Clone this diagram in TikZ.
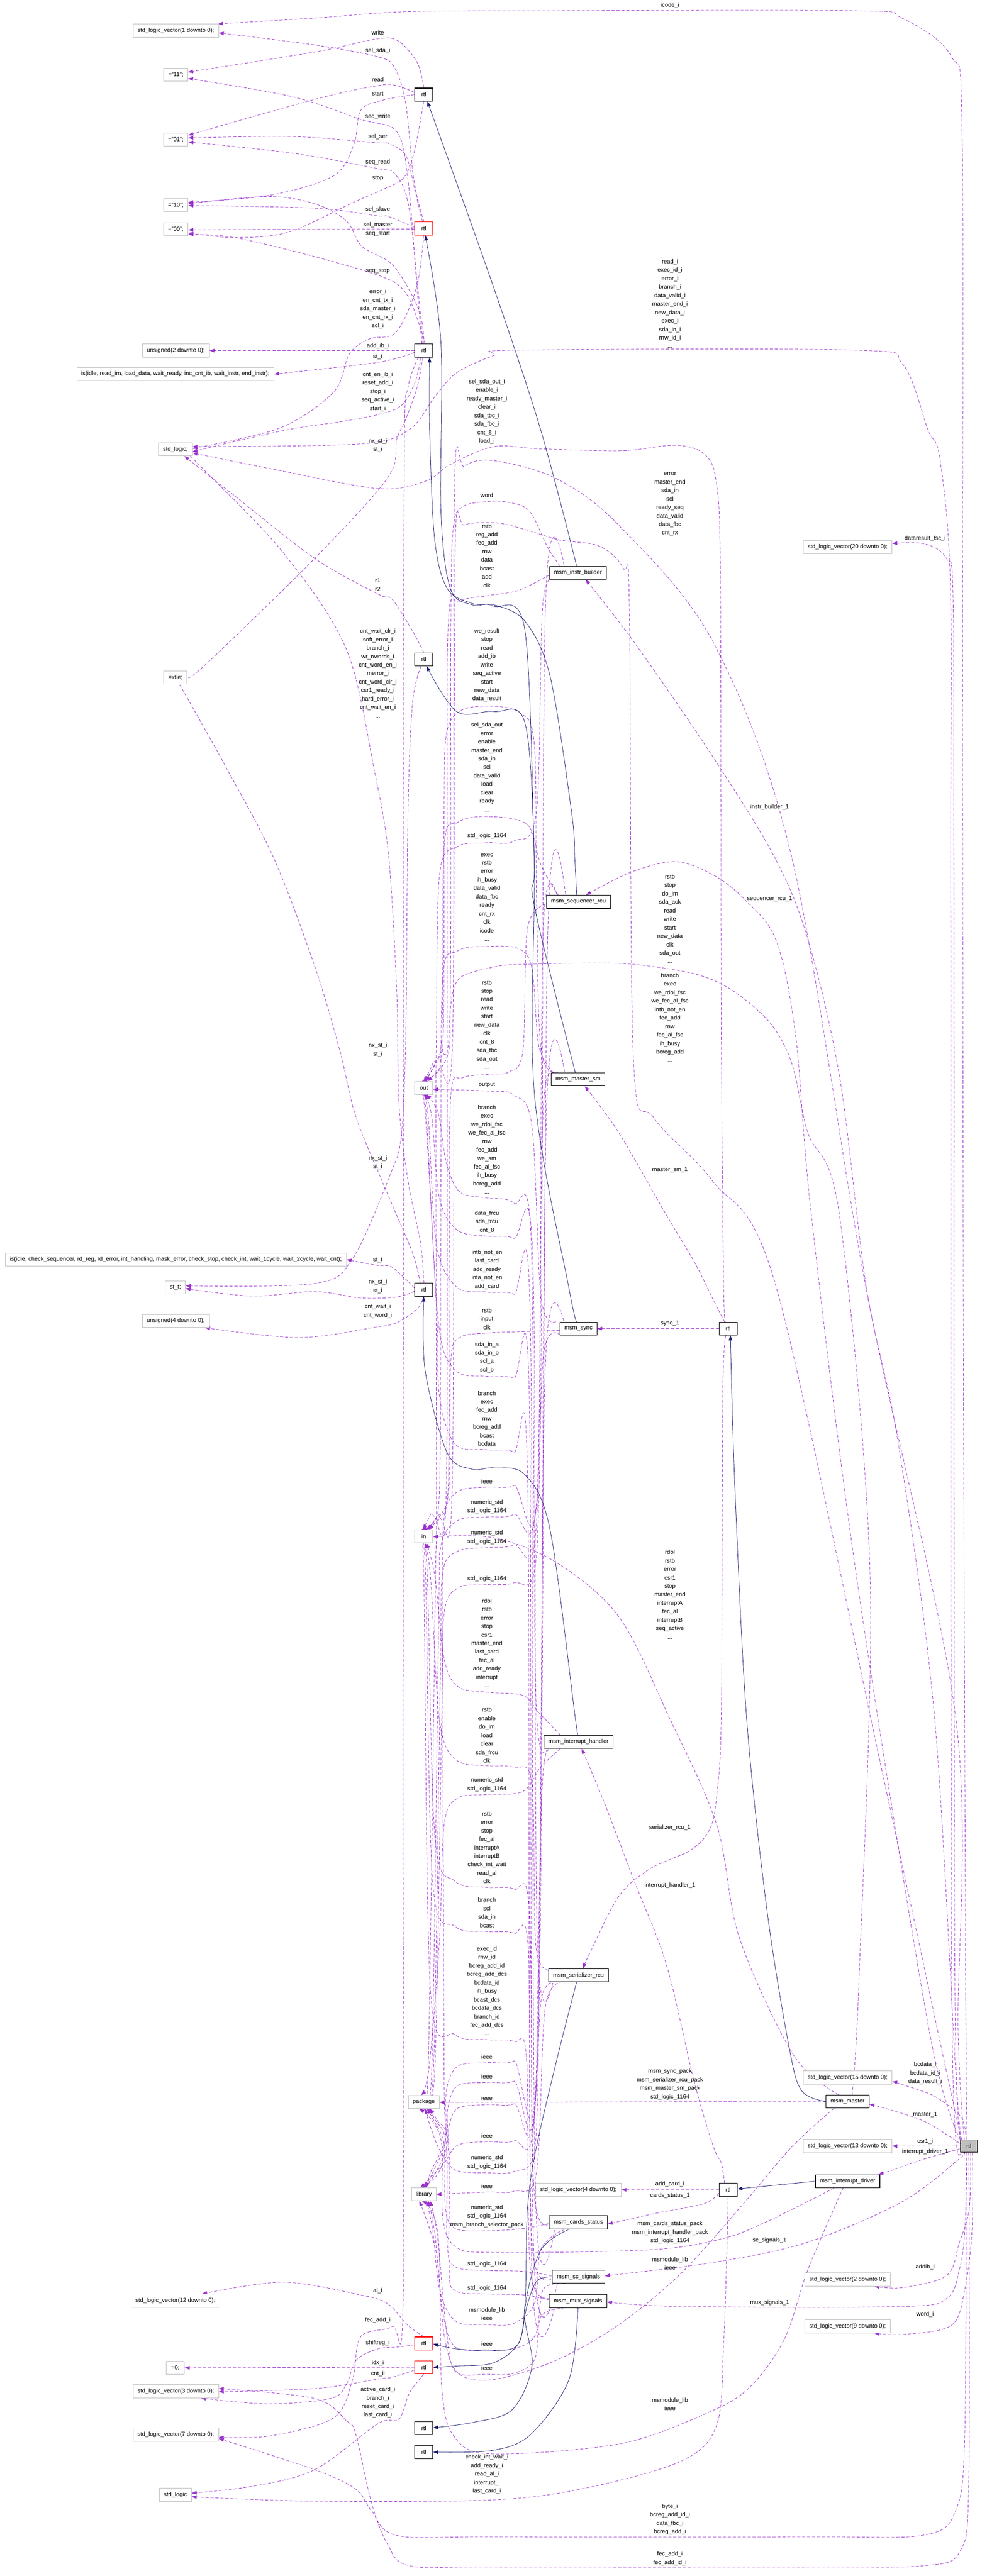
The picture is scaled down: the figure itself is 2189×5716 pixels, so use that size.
\documentclass[tikz,border=0pt]{standalone}
\usepackage{fontspec}
\setmainfont{Liberation Sans}
\usetikzlibrary{arrows.meta}
\definecolor{ec}{HTML}{9A32CD}
\definecolor{ic}{HTML}{191970}
\definecolor{gb}{HTML}{BFBFBF}
\pgfdeclarelayer{bg}
\pgfsetlayers{bg,main}
\newcommand{\myedge}[2][dep]{\draw[#1] plot[smooth,tension=.55] coordinates {#2};}
\begin{document}
\begin{tikzpicture}[x=1pt,y=-1pt,
 tn/.style={draw=gb,line width=1pt,fill=white,font=\fontsize{13}{15}\selectfont,inner xsep=10pt,inner ysep=0pt,minimum height=29pt,minimum width=40pt},
 en/.style={tn,draw=black,line width=1.3pt},
 rn/.style={tn,draw=red,line width=1.3pt},
 lb/.style={font=\fontsize{13}{18.8}\selectfont,align=center,inner sep=0pt},
 dep/.style={draw=ec,line width=0.9pt,dash pattern=on 7pt off 4pt,-{Triangle[length=11pt,width=8pt]}},
 inh/.style={draw=ic,line width=0.9pt,-{Triangle[length=11pt,width=8pt]}}]
\useasboundingbox (0,0) rectangle (2189,5716);
% ---------- nodes: left column (types)
\node[tn] (slv1) at (390,68) {std\_logic\_vector(1 downto 0);};
\node[tn] (v11) at (390,166) {="11";};
\node[tn] (v01) at (390,310) {="01";};
\node[tn] (v10) at (390,455) {="10";};
\node[tn] (v00) at (390,509) {="00";};
\node[tn] (u2) at (390,778) {unsigned(2 downto 0);};
\node[tn] (isib) at (389,830) {is(idle, read\_im, load\_data, wait\_ready, inc\_cnt\_ib, wait\_instr, end\_instr);};
\node[tn] (sl) at (389,997) {std\_logic;};
\node[tn] (idle) at (389,1503) {=idle;};
\node[tn] (isih) at (390,2795) {is(idle, check\_sequencer, rd\_reg, rd\_error, int\_handling, mask\_error, check\_stop, check\_int, wait\_1cycle, wait\_2cycle, wait\_cnt);};
\node[tn] (stt) at (389,2857) {st\_t;};
\node[tn] (u4) at (390,2931) {unsigned(4 downto 0);};
\node[tn] (v12) at (389,5105) {std\_logic\_vector(12 downto 0);};
\node[tn] (zero) at (389,5254) {=0;};
\node[tn] (v3) at (390,5306) {std\_logic\_vector(3 downto 0);};
\node[tn] (v7) at (390,5402) {std\_logic\_vector(7 downto 0);};
\node[tn] (sl2) at (389,5536) {std\_logic};
% ---------- rank 4
\node[en] (rA) at (940,210) {rtl};
\node[rn] (rB) at (940,507) {rtl};
\node[en] (rC) at (940,778) {rtl};
\node[en] (rD) at (940,1463) {rtl};
\node[tn] (outn) at (940,2414) {out};
\node[en] (rE) at (940,2862) {rtl};
\node[tn] (inn) at (940,3409) {in};
\node[tn] (pkg) at (940,4664) {package};
\node[tn] (lib) at (940,4869) {library};
\node[rn] (rH) at (940,5200) {rtl};
\node[rn] (rI) at (940,5253) {rtl};
\node[en] (rJ) at (940,5388) {rtl};
\node[en] (rK) at (940,5441) {rtl};
% ---------- rank 3
\node[en] (ib) at (1282,1271) {msm\_instr\_builder};
\node[en] (seq) at (1283,2001) {msm\_sequencer\_rcu};
\node[en] (msm) at (1282,2395) {msm\_master\_sm};
\node[en] (sync) at (1283,2948) {msm\_sync};
\node[en] (ih) at (1283,3865) {msm\_interrupt\_handler};
\node[en] (ser) at (1283,4383) {msm\_serializer\_rcu};
\node[tn] (v4) at (1283,4859) {std\_logic\_vector(4 downto 0);};
\node[en] (card) at (1283,4931) {msm\_cards\_status};
\node[en] (sc) at (1283,5052) {msm\_sc\_signals};
\node[en] (mux) at (1282,5106) {msm\_mux\_signals};
% ---------- rank 2
\node[en] (rF) at (1615,2948) {rtl};
\node[en] (rG) at (1615,4859) {rtl};
% ---------- rank 1
\node[tn] (v20) at (1880,1214) {std\_logic\_vector(20 downto 0);};
\node[tn] (v15) at (1880,4610) {std\_logic\_vector(15 downto 0);};
\node[en] (mst) at (1880,4663) {msm\_master};
\node[tn] (v13) at (1880,4762) {std\_logic\_vector(13 downto 0);};
\node[en] (idr) at (1880,4840) {msm\_interrupt\_driver};
\node[tn] (v2) at (1880,5058) {std\_logic\_vector(2 downto 0);};
\node[tn] (v9) at (1880,5162) {std\_logic\_vector(9 downto 0);};
% ---------- rank 0
\node[tn,draw=black,line width=1.3pt,fill=gb,minimum width=38pt,minimum height=28pt] (top) at (2149,4762) {rtl};
% ---------- labels x=838
\node[lb] (t1) at (838,73) {write};
\node[lb] (t2) at (838,113) {sel\_sda\_i};
\node[lb] (t3) at (838,177) {read};
\node[lb] (t4) at (838,208) {start};
\node[lb] (t5) at (838,259) {seq\_write};
\node[lb] (t6) at (838,303) {sel\_ser};
\node[lb] (t7) at (838,360) {seq\_read};
\node[lb] (t8) at (838,396) {stop};
\node[lb] (t9) at (838,465) {sel\_slave};
\node[lb] (t10) at (838,499) {sel\_master};
\node[lb] (t11) at (838,519) {seq\_start};
\node[lb] (t12) at (838,601) {seq\_stop};
\node[lb] (t13) at (838,685.5) {error\_i\\en\_cnt\_tx\_i\\sda\_master\_i\\en\_cnt\_rx\_i\\scl\_i};
\node[lb] (t14) at (838,768) {add\_ib\_i};
\node[lb] (t15) at (838,792) {st\_t};
\node[lb] (t16) at (838,869) {cnt\_en\_ib\_i\\reset\_add\_i\\stop\_i\\seq\_active\_i\\start\_i};
\node[lb] (t17) at (838,988.5) {nx\_st\_i\\st\_i};
\node[lb] (t18) at (838,1297.5) {r1\\r2};
\node[lb] (t19) at (838,1494) {cnt\_wait\_clr\_i\\soft\_error\_i\\branch\_i\\wr\_nwords\_i\\cnt\_word\_en\_i\\merror\_i\\cnt\_word\_clr\_i\\csr1\_ready\_i\\hard\_error\_i\\cnt\_wait\_en\_i\\...};
\node[lb] (t20) at (838,2330) {nx\_st\_i\\st\_i};
\node[lb] (t21) at (838,2579.5) {nx\_st\_i\\st\_i};
\node[lb] (t22) at (838,2796) {st\_t};
\node[lb] (t23) at (838,2854.5) {nx\_st\_i\\st\_i};
\node[lb] (t24) at (838,2909.5) {cnt\_wait\_i\\cnt\_word\_i};
\node[lb] (t25) at (838,5083) {al\_i};
\node[lb] (t26) at (838,5148) {fec\_add\_i};
\node[lb] (t27) at (838,5199) {shiftreg\_i};
\node[lb] (t28) at (838,5243) {idx\_i};
\node[lb] (t29) at (838,5267) {cnt\_ii};
\node[lb] (t30) at (838,5331) {active\_card\_i\\branch\_i\\reset\_card\_i\\last\_card\_i};
% ---------- labels x=1080
\node[lb] (u1) at (1080,913.5) {sel\_sda\_out\_i\\enable\_i\\ready\_master\_i\\clear\_i\\sda\_tbc\_i\\sda\_fbc\_i\\cnt\_8\_i\\load\_i};
\node[lb] (u2l) at (1080,1099) {word};
\node[lb] (u3) at (1080,1233) {rstb\\reg\_add\\fec\_add\\rnw\\data\\bcast\\add\\clk};
\node[lb] (u4l) at (1080,1476) {we\_result\\stop\\read\\add\_ib\\write\\seq\_active\\start\\new\_data\\data\_result};
\node[lb] (u5) at (1080,1702) {sel\_sda\_out\\error\\enable\\master\_end\\sda\_in\\scl\\data\_valid\\load\\clear\\ready\\...};
\node[lb] (u6) at (1080,1855) {std\_logic\_1164};
\node[lb] (u7) at (1080,1990.5) {exec\\rstb\\error\\ih\_busy\\data\_valid\\data\_fbc\\ready\\cnt\_rx\\clk\\icode\\...};
\node[lb] (u8) at (1080,2274) {rstb\\stop\\read\\write\\start\\new\_data\\clk\\cnt\_8\\sda\_tbc\\sda\_out\\...};
\node[lb] (u9) at (1080,2408) {output};
\node[lb] (u10) at (1080,2551) {branch\\exec\\we\_rdol\_fsc\\we\_fec\_al\_fsc\\rnw\\fec\_add\\we\_sm\\fec\_al\_fsc\\ih\_busy\\bcreg\_add\\...};
\node[lb] (u11) at (1080,2711.5) {data\_frcu\\sda\_trcu\\cnt\_8};
\node[lb] (u12) at (1080,2817) {intb\_not\_en\\last\_card\\add\_ready\\inta\_not\_en\\add\_card};
\node[lb] (u13) at (1080,2926) {rstb\\input\\clk};
\node[lb] (u14) at (1080,3012) {sda\_in\_a\\sda\_in\_b\\scl\_a\\scl\_b};
\node[lb] (u15) at (1080,3147.5) {branch\\exec\\fec\_add\\rnw\\bcreg\_add\\bcast\\bcdata};
\node[lb] (u16) at (1080,3287) {ieee};
\node[lb] (u17) at (1080,3343.5) {numeric\_std\\std\_logic\_1164};
\node[lb] (u18) at (1080,3411.5) {numeric\_std\\std\_logic\_1164};
\node[lb] (u19) at (1080,3503) {std\_logic\_1164};
\node[lb] (u20) at (1080,3646) {rdol\\rstb\\error\\stop\\csr1\\master\_end\\last\_card\\fec\_al\\add\_ready\\interrupt\\...};
\node[lb] (u21) at (1080,3850.5) {rstb\\enable\\do\_im\\load\\clear\\sda\_frcu\\clk};
\node[lb] (u22) at (1080,3960) {numeric\_std\\std\_logic\_1164};
\node[lb] (u23) at (1080,4099.5) {rstb\\error\\stop\\fec\_al\\interruptA\\interruptB\\check\_int\_wait\\read\_al\\clk};
\node[lb] (u24) at (1080,4244) {branch\\scl\\sda\_in\\bcast};
\node[lb] (u25) at (1080,4418) {exec\_id\\rnw\_id\\bcreg\_add\_id\\bcreg\_add\_dcs\\bcdata\_id\\ih\_busy\\bcast\_dcs\\bcdata\_dcs\\branch\_id\\fec\_add\_dcs\\...};
\node[lb] (u26) at (1080,4564) {ieee};
\node[lb] (u27) at (1080,4608) {ieee};
\node[lb] (u28) at (1080,4656) {ieee};
\node[lb] (u29) at (1080,4739) {ieee};
\node[lb] (u30) at (1080,4798) {numeric\_std\\std\_logic\_1164};
\node[lb] (u31) at (1080,4851) {ieee};
\node[lb] (u32) at (1080,4918) {numeric\_std\\std\_logic\_1164\\msm\_branch\_selector\_pack};
\node[lb] (u33) at (1080,5024) {std\_logic\_1164};
\node[lb] (u34) at (1080,5077) {std\_logic\_1164};
\node[lb] (u35) at (1080,5134.5) {msmodule\_lib\\ieee};
\node[lb] (u36) at (1080,5201) {ieee};
\node[lb] (u37) at (1080,5255) {ieee};
\node[lb] (u38) at (1080,5490.5) {check\_int\_wait\_i\\add\_ready\_i\\read\_al\_i\\interrupt\_i\\last\_card\_i};
% ---------- labels x=1486
\node[lb] (w1) at (1486,12) {icode\_i};
\node[lb] (w2) at (1486,674) {read\_i\\exec\_id\_i\\error\_i\\branch\_i\\data\_valid\_i\\master\_end\_i\\new\_data\_i\\exec\_i\\sda\_in\_i\\rnw\_id\_i\\...};
\node[lb] (w3) at (1486,1118.5) {error\\master\_end\\sda\_in\\scl\\ready\_seq\\data\_valid\\data\_fbc\\cnt\_rx};
\node[lb] (w4) at (1486,2039) {rstb\\stop\\do\_im\\sda\_ack\\read\\write\\start\\new\_data\\clk\\sda\_out\\...};
\node[lb] (w5) at (1486,2258.5) {branch\\exec\\we\_rdol\_fsc\\we\_fec\_al\_fsc\\intb\_not\_en\\fec\_add\\rnw\\fec\_al\_fsc\\ih\_busy\\bcreg\_add\\...};
\node[lb] (w6) at (1486,2596) {master\_sm\_1};
\node[lb] (w7) at (1486,2937) {sync\_1};
\node[lb] (w8) at (1486,3538) {rdol\\rstb\\error\\csr1\\stop\\master\_end\\interruptA\\fec\_al\\interruptB\\seq\_active\\...};
\node[lb] (w9) at (1486,4055) {serializer\_rcu\_1};
\node[lb] (w10) at (1486,4183) {interrupt\_handler\_1};
\node[lb] (w11) at (1486,4625) {msm\_sync\_pack\\msm\_serializer\_rcu\_pack\\msm\_master\_sm\_pack\\std\_logic\_1164};
\node[lb] (w12) at (1486,4847) {add\_card\_i};
\node[lb] (w13) at (1486,4872) {cards\_status\_1};
\node[lb] (w14) at (1486,4953.5) {msm\_cards\_status\_pack\\msm\_interrupt\_handler\_pack\\std\_logic\_1164};
\node[lb] (w15) at (1486,5022.5) {msmodule\_lib\\ieee};
\node[lb] (w16) at (1486,5334.5) {msmodule\_lib\\ieee};
\node[lb] (w17) at (1486,5590) {byte\_i\\bcreg\_add\_id\_i\\data\_fbc\_i\\bcreg\_add\_i};
\node[lb] (w18) at (1486,5677) {fec\_add\_i\\fec\_add\_id\_i};
% ---------- labels x=1707 / 2052
\node[lb] (x1) at (1707,1791) {instr\_builder\_1};
\node[lb] (x2) at (1707,1995) {sequencer\_rcu\_1};
\node[lb] (x3) at (1707,4971) {sc\_signals\_1};
\node[lb] (x4) at (1707,5109) {mux\_signals\_1};
\node[lb] (y1) at (2052,1195) {dataresult\_fsc\_i};
\node[lb] (y2) at (2052,4600.5) {bcdata\_i\\bcdata\_id\_i\\data\_result\_i};
\node[lb] (y3) at (2052,4692) {master\_1};
\node[lb] (y4) at (2052,4752) {csr1\_i};
\node[lb] (y5) at (2052,4775) {interrupt\_driver\_1};
\node[lb] (y6) at (2052,5031) {addib\_i};
\node[lb] (y7) at (2052,5136) {word\_i};
% =================== connectors (background layer)
\begin{pgfonlayer}{bg}
\fill[white] (0,0) rectangle (2189,5716);
% ---- rank 4 -> rank 5
\myedge{(rA.north) (926,140) (885,92) (838,86) (700,115) ([yshift=6pt]v11.east)}
\myedge{(rB.north) (918,400) (900,230) (875,150) (838,126) (700,100) ([yshift=-5pt]slv1.east)}
\myedge{([yshift=5pt]rA.west) (880,190) (838,190) (700,220) ([yshift=10pt]v01.east)}
\myedge{(rA.west) (850,222) (800,245) (785,320) (740,390) (600,433) ([yshift=6pt]v10.east)}
\myedge{([xshift=-4pt]rC.north) (925,640) (905,400) (880,292) (800,265) (650,215) ([yshift=-8pt]v11.east)}
\myedge{([xshift=-3pt]rB.north) (922,430) (900,345) (860,318) (838,317) (650,303) ([yshift=4pt]v01.east)}
\myedge{([xshift=-2pt]rC.north) (928,650) (905,450) (875,385) (838,374) (650,340) ([yshift=-5pt]v01.east)}
\myedge{(rA.south) (918,340) (895,395) (850,420) (782,450) (640,515) (520,527) ([yshift=-8pt]v00.east)}
\myedge{([yshift=3pt]rB.west) (860,480) (838,479) (700,462) ([yshift=-1pt]v10.east)}
\draw[dep] ([yshift=-1pt]rB.west) -- ([yshift=-1pt]v00.east);
\myedge{(rC.north) (930,690) (873,590) (803,547) (768,490) (698,452) (594,436) ([yshift=3pt]v10.east)}
\myedge{([xshift=3pt]rC.north) (930,720) (900,650) (850,615) (700,570) (520,527) ([yshift=-11pt]v00.east)}
\myedge{(rB.south) (928,620) (905,690) (873,742) (820,752) (775,785) (740,870) (620,950) ([yshift=2pt]sl.east)}
\draw[dep] (rC.west) -- (u2.east);
\myedge{([yshift=-4pt]rC.west) (838,804) (isib.east)}
\myedge{([xshift=-6pt]rC.south) (920,850) (890,900) (838,920) (760,935) (630,955) ([yshift=-5pt]sl.east)}
\myedge{([xshift=-2pt]rC.south) (925,860) (900,930) (880,975) (860,1060) (698,1239) (450,1480) ([yshift=5pt]idle.east)}
\myedge{(rD.north) (915,1400) (870,1330) (838,1318) (698,1239) (520,1100) ([xshift=20pt]sl.south)}
\myedge{(rE.north) (933,2760) (905,2620) (885,2450) (880,2200) (862,1900) (831,1713) (768,1440) (628,1226) (450,1040) ([xshift=32pt]sl.south)}
\myedge{([xshift=-8pt]rE.north) (915,2780) (860,2650) (790,2480) (754,2332) (700,2150) (608,1906) (500,1700) (402,1525) ([xshift=10pt]idle.south)}
\myedge{([xshift=-6pt]rD.south) (915,1560) (905,1800) (900,2300) (890,2520) (866,2605) (782,2793) (698,2848) ([yshift=4pt]stt.east)}
\myedge{([yshift=4pt]rE.west) (870,2812) (838,2808) (isih.east)}
\myedge{([yshift=-3pt]rE.west) (880,2878) (800,2880) (698,2866) (559,2876) ([yshift=-2pt]stt.east)}
\myedge{(rE.south) (925,2905) (880,2935) (838,2944) (663,2968) ([xshift=-10pt]u4.south east)}
\myedge{(rH.north) (905,5160) (860,5112) (803,5093) (628,5064) ([xshift=-40pt]v12.north east)}
\myedge{([xshift=-12pt]rC.south) (905,860) (897,1000) (895,2000) (894,4000) (894,5110) (870,5162) (800,5185) (782,5280) (740,5365) (600,5405) ([yshift=-6pt]v7.east)}
\myedge{([yshift=-3pt]rH.west) (880,5208) (838,5212) (790,5237) (768,5291) (733,5322) (594,5334) ([xshift=-40pt]v3.south east)}
\draw[dep] (rI.west) -- (zero.east);
\myedge{([yshift=-6pt]rI.west) (870,5275) (838,5279) (700,5300) ([yshift=-1pt]v3.east)}
\myedge{(rI.south) (908,5310) (885,5368) (838,5378) (698,5480) (559,5517) ([yshift=4pt]sl2.east)}
% ---- long edges from top rtl / rank 2 to left types
\myedge{([xshift=-6pt]top.south) (2140,5400) (2120,5570) (2050,5625) (1800,5629) (1095,5629) (880,5626) (824,5571) (789,5523) (698,5480) ([yshift=-9pt]v7.east)}
\myedge{(top.south) (2149,5500) (2130,5660) (2050,5693) (1800,5696) (1095,5696) (908,5693) (859,5644) (824,5553) (789,5401) (768,5371) (698,5322) ([yshift=6pt]v3.east)}
\myedge{(rG.south) (1612,5000) (1605,5200) (1590,5380) (1513,5460) (1303,5520) (1094,5547) (700,5550) ([yshift=-4pt]sl2.east)}
\myedge{([xshift=-4pt]top.north) (2142,4400) (2137,3000) (2135,1500) (2134,300) (2110,125) (2000,40) (1897,24) (1200,24) (900,26) (700,40) ([xshift=-2pt]slv1.north east)}
\myedge{([xshift=-12pt]top.north) (2112,4500) (2109,2000) (2108,1300) (2085,1020) (2058,953) (2002,808) (1897,777) (1150,777) (1095,789) (1013,827) (964,881) (908,953) (800,985) ([yshift=6pt]sl.east)}
\myedge{([xshift=-6pt]rF.north) (1605,2850) (1600,2300) (1598,1300) (1590,1080) (1565,1010) (1500,988) (1380,1000) (1200,996) (1095,991) (1000,1030) (943,1068) (838,1084) (600,1040) ([yshift=-8pt]sl.east)}
% ---- rank 3 -> in / out
\myedge{([xshift=-40pt]ib.north) (1215,1215) (1175,1135) (1130,1115) (1080,1113) (1025,1125) (1005,1175) (1000,1400) (998,2250) (975,2340) ([xshift=4pt]outn.north)}
\myedge{([yshift=-5pt]ib.west) (1150,1310) (1080,1322) (1020,1335) (994,1390) (992,2000) (990,3300) (965,3370) ([xshift=5pt]inn.north)}
\myedge{([xshift=-45pt]msm.north) (1200,2330) (1190,2000) (1185,1650) (1150,1580) (1080,1567) (1020,1578) (990,1630) (985,1800) (983,2300) (965,2360) ([xshift=2pt]outn.north)}
\myedge{([xshift=-45pt]seq.north) (1200,1920) (1170,1830) (1080,1812) (1015,1825) (985,1880) (980,2300) (960,2360) (outn.north)}
\myedge{([xshift=-55pt]msm.north) (1195,2320) (1180,2150) (1150,2105) (1080,2100) (1015,2110) (982,2170) (978,2600) (975,3300) (955,3360) ([xshift=-2pt]inn.north)}
\myedge{([yshift=-5pt]seq.west) (1170,2060) (1160,2330) (1130,2378) (1080,2384) (1025,2392) (1000,2430) (996,2800) (994,3300) (970,3365) ([xshift=8pt]inn.north)}
\myedge{([xshift=-50pt]sync.north) (1200,2880) (1180,2500) (1140,2430) (1080,2421) ([yshift=-3pt]outn.east)}
\myedge{([xshift=-55pt]ih.north) (1190,3800) (1178,2750) (1140,2670) (1080,2658) (1020,2645) (990,2580) (972,2470) ([xshift=6pt]outn.south)}
\myedge{([xshift=-50pt]ser.north) (1192,4320) (1182,2800) (1140,2748) (1080,2743) (1015,2730) (975,2660) (958,2480) ([xshift=2pt]outn.south)}
\myedge{([xshift=-48pt]card.north) (1188,4880) (1176,2920) (1140,2872) (1080,2867) (1012,2855) (968,2760) (950,2480) ([xshift=-2pt]outn.south)}
\myedge{([yshift=-4pt]sync.west) (1150,2955) (1080,2958) (1020,2968) (1000,3020) (996,3300) (975,3365) ([xshift=11pt]inn.north)}
\myedge{([xshift=-40pt]sc.north) (1184,5000) (1174,3100) (1140,3058) (1080,3054) (1010,3040) (972,2930) (946,2480) ([xshift=-5pt]outn.south)}
\myedge{([xshift=-45pt]mux.north) (1180,5050) (1170,3270) (1140,3222) (1080,3217) (1010,3205) (975,3100) (968,2900) (944,2480) ([xshift=-8pt]outn.south)}
\myedge{([xshift=-40pt]ih.north) (1195,3800) (1160,3762) (1080,3755) (1015,3742) (985,3680) (965,3500) ([xshift=6pt]inn.south)}
\myedge{([xshift=-45pt]ser.north) (1190,4330) (1180,3960) (1140,3922) (1080,3918) (1012,3905) (975,3820) (955,3500) ([xshift=2pt]inn.south)}
\myedge{([xshift=-44pt]card.north) (1186,4880) (1174,4240) (1140,4192) (1080,4188) (1010,4175) (965,4080) (948,3500) ([xshift=-2pt]inn.south)}
\myedge{([xshift=-36pt]sc.north) (1182,5000) (1172,4330) (1140,4290) (1080,4286) (1010,4275) (960,4180) (944,3500) ([xshift=-5pt]inn.south)}
\myedge{([xshift=-41pt]mux.north) (1178,5050) (1168,4570) (1140,4530) (1080,4526) (1010,4515) (955,4420) (940,3500) ([xshift=-8pt]inn.south)}
% ---- rank 3 -> package / library
\myedge{([xshift=-35pt]ib.south) (1205,1330) (1190,1800) (1140,1866) (1080,1870) (1015,1878) (975,1940) (968,2300) (967,2500) (968,3380) (966,3500) (950,4580) ([xshift=-3pt]pkg.north)}
\myedge{([xshift=-25pt]ib.south) (1210,1340) (1196,3240) (1140,3296) (1080,3300) (1015,3310) (985,3370) (982,3600) (985,4600) (988,4740) (955,4820) ([xshift=5pt]lib.north)}
\myedge{([xshift=-40pt]seq.south) (1205,2060) (1192,3300) (1140,3360) (1080,3366) (1015,3374) (978,3430) (973,3600) (958,4580) (pkg.north)}
\myedge{([xshift=-40pt]msm.south) (1205,2460) (1190,3380) (1140,3428) (1080,3434) (1015,3442) (982,3490) (977,3700) (962,4580) ([xshift=3pt]pkg.north)}
\myedge{([xshift=-40pt]sync.south) (1205,3010) (1188,3470) (1140,3512) (1080,3516) (1015,3524) (985,3580) (980,3800) (965,4580) ([xshift=6pt]pkg.north)}
\myedge{([xshift=-40pt]ih.south) (1200,3920) (1160,3975) (1080,3982) (1015,3990) (985,4050) (975,4300) (952,4585) ([xshift=-6pt]pkg.north)}
\myedge{([xshift=-25pt]seq.south) (1215,2070) (1194,4520) (1140,4573) (1080,4577) (1015,4585) (990,4640) (988,4750) (960,4820) ([xshift=2pt]lib.north)}
\myedge{([xshift=-25pt]msm.south) (1212,2470) (1192,4570) (1140,4618) (1080,4621) (1015,4628) (993,4680) (992,4760) (964,4825) ([xshift=-1pt]lib.north)}
\myedge{([xshift=-25pt]sync.south) (1210,3020) (1190,4620) (1140,4668) (1080,4670) (1015,4678) (996,4720) (994,4770) (968,4828) ([xshift=-4pt]lib.north)}
\myedge{([xshift=-25pt]ih.south) (1205,3930) (1185,4700) (1140,4750) (1080,4752) (1015,4760) (985,4800) ([xshift=-7pt]lib.north)}
\myedge{([xshift=-40pt]ser.south) (1200,4440) (1186,4770) (1140,4818) (1080,4821) (1010,4815) (975,4770) (955,4720) ([xshift=3pt]pkg.south)}
\myedge{([xshift=-25pt]ser.south) (1210,4450) (1190,4820) (1140,4862) (1080,4864) (lib.east)}
\myedge{([yshift=-3pt]card.west) (1160,4945) (1080,4950) (1010,4945) (988,4900) (985,4760) (962,4705) ([xshift=7pt]pkg.south)}
\myedge{([yshift=2pt]sc.west) (1160,5040) (1080,5038) (1010,5030) (992,4980) (990,4760) (966,4705) ([xshift=10pt]pkg.south)}
\myedge{([yshift=3pt]mux.west) (1160,5092) (1080,5090) (1010,5083) (996,5030) (995,4760) (970,4705) ([xshift=13pt]pkg.south)}
\myedge{([xshift=-30pt]card.south) (1200,4990) (1186,5110) (1140,5155) (1080,5158) (1010,5150) (975,5080) (960,4950) ([xshift=6pt]lib.south)}
\myedge{([xshift=-30pt]sc.south) (1205,5080) (1188,5180) (1140,5212) (1080,5214) (1010,5208) (982,5130) (965,4960) ([xshift=10pt]lib.south)}
\myedge{([xshift=-30pt]mux.south) (1200,5140) (1186,5235) (1140,5266) (1080,5268) (1010,5262) (990,5170) (970,4960) ([xshift=14pt]lib.south)}
% ---- rank 1 -> package / library / in / out
\draw[dep] (mst.west) -- ([yshift=-1pt]pkg.east);
\myedge{([xshift=-30pt]mst.south) (1757,4763) (1653,4885) (1513,5042) (1373,5158) (1234,5237) (1094,5280) (1015,5265) (985,5180) (968,5000) ([xshift=-10pt]lib.south)}
\myedge{([xshift=-30pt]idr.south) (1700,4930) (1600,4968) (1443,4992) (1094,4998) (1010,4985) (982,4920) (980,4760) (958,4705) ([xshift=-10pt]pkg.south)}
\myedge{([xshift=-10pt]idr.south) (1792,5036) (1740,5190) (1660,5300) (1560,5358) (1373,5423) (1094,5445) (1010,5410) (980,5300) (972,4960) ([xshift=-4pt]lib.south)}
\myedge{([xshift=-10pt]top.north) (2125,4500) (2120,3812) (1921,2859) (1757,1906) (1583,1427) (1373,1166) (1234,1062) (1094,1022) (1030,1035) (1008,1090) (1004,2300) (975,2370) ([xshift=8pt]outn.north)}
\myedge{([xshift=-16pt]top.north) (2100,4600) (1950,3900) (1720,2850) (1580,2620) (1450,2480) (1405,2350) (1396,1350) (1383,1262) (1330,1212) (1240,1198) (1165,1175) (1100,1160) (1030,1165) (1010,1200) (1007,2000) (1003,3300) (975,3370) ([xshift=-5pt]inn.north)}
\myedge{([xshift=10pt]mst.north) (1905,4400) (1930,3500) (1862,2696) (1792,2514) (1757,2362) (1709,2271) (1625,2198) (1541,2161) (1408,2140) (1304,2137) (1150,2140) (1094,2146) (1020,2170) (1000,2230) (996,2330) (970,2380) ([xshift=-4pt]outn.north)}
\myedge{([xshift=-20pt]mst.north) (1760,4560) (1640,4300) (1590,4050) (1485,3812) (1373,3588) (1234,3467) (1094,3412) ([yshift=-1pt]inn.east)}
% ---- rank 2 edges
\draw[dep] (rF.west) -- (sync.east);
\myedge{([xshift=-8pt]rF.north) (1580,2880) (1540,2800) (1478,2696) (1373,2514) ([xshift=15pt]msm.south)}
\myedge{([xshift=-5pt]rF.south) (1603,3100) (1600,3800) (1590,3980) (1576,4055) (1534,4104) (1443,4146) (1373,4207) (1310,4330) ([xshift=10pt]ser.north)}
\myedge{([xshift=-8pt]rG.north) (1600,4800) (1583,4765) (1540,4620) (1478,4359) (1408,4177) (1338,3994) ([xshift=7pt]ih.south)}
\draw[dep] (rG.west) -- (v4.east);
\myedge{([yshift=-8pt]rG.west) (1560,4890) (1450,4912) ([yshift=-4pt]card.east)}
% ---- rank 0 edges
\myedge{([xshift=-14pt]top.north) (2118,4400) (2116,2000) (2114,1330) (2100,1240) (2052,1207) ([yshift=8pt]v20.east)}
\myedge{([xshift=-6pt]top.north) (2140,4720) (2128,4693) (2072,4651) (2000,4625) ([yshift=-9pt]v15.east)}
\myedge{([yshift=6pt]top.west) (2052,4708) (1970,4680) ([yshift=-6pt]mst.east)}
\draw[dep] (top.west) -- (v13.east);
\myedge{([yshift=-6pt]top.west) (2052,4790) (1980,4815) ([xshift=-4pt]idr.north east)}
\myedge{([xshift=-12pt]top.south) (2128,4790) (2002,4885) (1792,4975) (1583,5020) ([yshift=2pt]sc.east)}
\myedge{([xshift=-4pt]top.south) (2140,4950) (2128,5036) (2100,5100) (2000,5118) (1513,5118) ([yshift=-2pt]mux.east)}
\myedge{([xshift=4pt]top.south) (2150,4900) (2128,4976) (2100,5049) (2002,5076) ([xshift=-36pt]v2.south east)}
\myedge{([xshift=8pt]top.south) (2156,4950) (2140,5080) (2110,5160) (2002,5180) ([xshift=-36pt]v9.south east)}
\myedge{([xshift=-19pt]top.north) (2060,4500) (1900,3500) (1800,2700) (1765,2300) (1722,2088) (1653,1997) (1583,1942) (1499,1912) (1400,1935) ([xshift=17pt]seq.north)}
\myedge{([xshift=-17pt]top.north) (2120,4600) (2072,3800) (1992,3200) (1922,2859) (1863,2394) (1793,2088) (1720,1906) (1583,1682) (1408,1427) ([xshift=17pt]ib.south)}
% ---- inheritance (solid)
\myedge[inh]{([xshift=-3pt]ib.north) (1199,953) (1095,638) ([xshift=8pt]rA.south)}
\myedge[inh]{([xshift=-4pt]seq.north) (1275,1906) (1268,1804) (1220,1500) (1164,1378) (1095,1342) (1047,1342) (999,1306) (978,1135) (978,760) ([xshift=3pt]rB.south)}
\myedge[inh]{([xshift=-6pt]msm.north) (1185,2009) (1185,1906) (1164,1397) (1095,1345) (1047,1339) (992,1306) (964,1196) (953,953) ([xshift=13pt]rC.south)}
\myedge[inh]{([xshift=-4pt]sync.north) (1262,2859) (1185,2423) (1185,1906) (1164,1603) (1095,1579) (1013,1579) ([xshift=6pt]rD.south)}
\myedge[inh]{([xshift=-1pt]ih.north) (1276,3812) (1220,3394) (1164,3272) (1095,3257) (1047,3260) (992,3224) (943,3041) (rE.south)}
\myedge[inh]{(mst.west) (1778,4639) (1750,4541) (1701,4237) (1656,3812) (1630,3300) ([xshift=5pt]rF.south)}
\draw[inh] (idr.west) -- ([yshift=2pt]rG.east);
\myedge[inh]{([xshift=-4pt]ser.south) (1240,4550) (1190,4763) (1170,4900) (1165,5100) (1150,5200) (1095,5216) (1013,5212) ([yshift=-1pt]rH.east)}
\myedge[inh]{(sc.west) (1190,5062) (1168,5120) (1150,5200) (1094,5243) (1013,5250) (rI.east)}
\myedge[inh]{([xshift=-20pt]card.south) (1199,4994) (1164,5128) (1180,5249) (1136,5347) (1050,5375) ([yshift=1pt]rJ.east)}
\myedge[inh]{(mux.south) (1262,5280) (1178,5401) (1094,5437) (rK.east)}
\end{pgfonlayer}
\end{tikzpicture}
\end{document}
